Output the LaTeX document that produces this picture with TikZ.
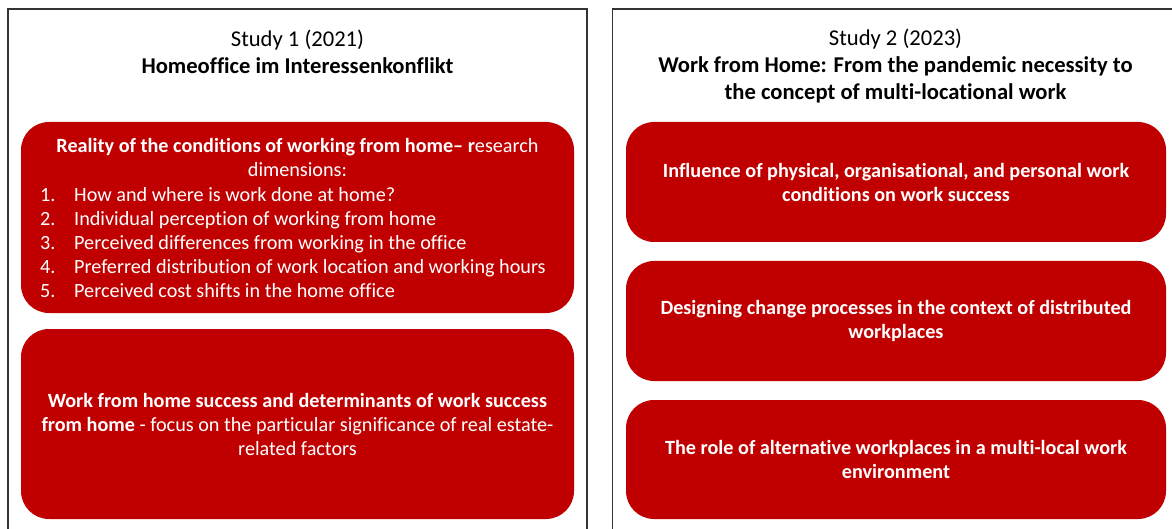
\documentclass[tikz,border=0pt]{standalone}
\usepackage{fontspec}
\setmainfont{Carlito}[Ligatures=NoCommon]
\definecolor{studyred}{HTML}{C00000}
\definecolor{framegrey}{HTML}{333333}

\begin{document}
\begin{tikzpicture}[x=1pt, y=-1pt,
    panel/.style={draw=framegrey, line width=1.1pt},
    redbox/.style={fill=studyred, rounded corners=28pt, inner sep=0pt},
    boxtext/.style={text=white, align=center, inner sep=0pt, font=\fontsize{20.2}{24}\selectfont},
    heading/.style={align=center, inner sep=0pt, font=\fontsize{22.6}{27}\selectfont}]

    \useasboundingbox (0,0) rectangle (1172,529);
    \clip (0,0) rectangle (1172,529);

    % Two study panels (running off the bottom and right edge)
    \draw[panel] (8,9) rectangle (587,545);
    \draw[panel] (612.5,9) rectangle (1185,545);

    % Study 1
    \node[heading] (title1) at (297.5,51.5)
        {Study 1 (2021)\\\textbf{Homeoffice im Interessenkonflikt}};

    \node[redbox, minimum width=553pt, minimum height=191pt] (reality) at (297.5,217.5) {};
    \node[boxtext] (realityhead) at (297.5,157.5)
        {\textbf{Reality of the conditions of working from home– r}esearch\\dimensions:};
    \node[boxtext, anchor=west, align=left] (realitylist) at (40,245)
        {\begin{tabular}{@{}p{34pt}@{}l@{}}
            1. & How and where is work done at home?\\
            2. & Individual perception of working from home\\
            3. & Perceived differences from working in the office\\
            4. & Preferred distribution of work location and working hours\\
            5. & Perceived cost shifts in the home office
         \end{tabular}};

    \node[redbox, minimum width=553pt, minimum height=190pt] (success) at (297.5,424) {};
    \node[boxtext] (successtext) at (success)
        {\textbf{Work from home success and determinants of work success}\\
         \textbf{from home} - focus on the particular significance of real estate-\\
         related factors};

    % Study 2
    \node[heading] (title2) at (895.5,66)
        {Study 2 (2023)\\\textbf{Work from Home: From the pandemic necessity to}\\
         \textbf{the concept of multi-locational work}};

    \node[redbox, minimum width=540pt, minimum height=120pt] (influence) at (896,182) {};
    \node[boxtext, font=\bfseries\fontsize{20.2}{24}\selectfont] (influencetext) at (influence)
        {Influence of physical, organisational, and personal work\\conditions on work success};

    \node[redbox, minimum width=540pt, minimum height=120pt] (change) at (896,321) {};
    \node[boxtext, font=\bfseries\fontsize{20.2}{24}\selectfont] (changetext) at (change)
        {Designing change processes in the context of distributed\\workplaces};

    \node[redbox, minimum width=540pt, minimum height=119pt] (alternative) at (896,459.5) {};
    \node[boxtext, font=\bfseries\fontsize{20.2}{24}\selectfont] (alternativetext) at (alternative)
        {The role of alternative workplaces in a multi-local work\\environment};
\end{tikzpicture}
\end{document}
